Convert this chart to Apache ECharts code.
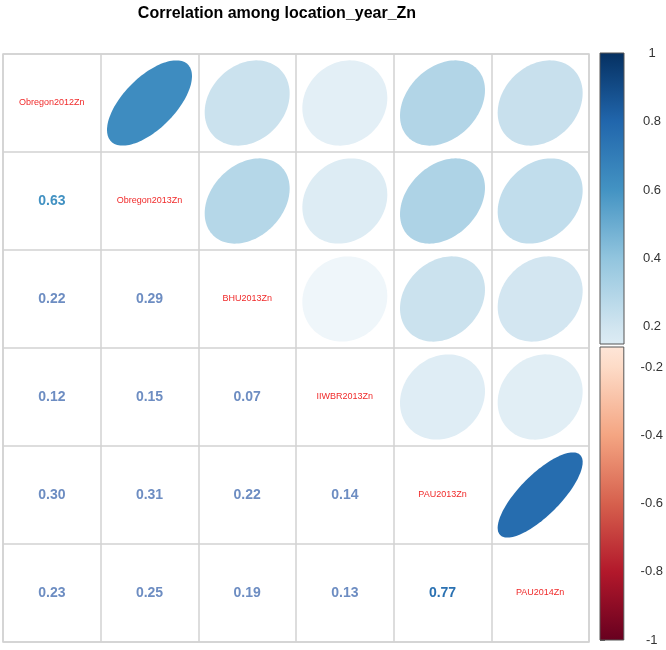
<!DOCTYPE html>
<html><head><meta charset="utf-8">
<script src="https://cdn.jsdelivr.net/npm/echarts@6/dist/echarts.min.js"></script>
<style>html,body{margin:0;padding:0;background:#fff}#c{width:666px;height:650px}</style>
</head><body><div id="c"></div>
<script>
// ---- data ----
const variables = ['Obregon2012Zn','Obregon2013Zn','BHU2013Zn','IIWBR2013Zn','PAU2013Zn','PAU2014Zn'];
const corrLower = [
  [],
  [0.63],
  [0.22, 0.29],
  [0.12, 0.15, 0.07],
  [0.30, 0.31, 0.22, 0.14],
  [0.23, 0.25, 0.19, 0.13, 0.77]
];
const posTicks = [0.2, 0.4, 0.6, 0.8, 1];
const negTicks = [-1, -0.8, -0.6, -0.4, -0.2];
const posRange = [0.15, 1];
const negRange = [-1, -0.14];
const paletteValues = [-1,-0.8,-0.6,-0.4,-0.2,0,0.2,0.4,0.6,0.8,1];
const paletteColors = ['#67001F','#B2182B','#D6604D','#F4A582','#FDDBC7','#FFFFFF','#D1E5F0','#92C5DE','#4393C3','#2166AC','#053061'];

// ---- helpers ----
function hex2rgb(h){return [parseInt(h.slice(1,3),16),parseInt(h.slice(3,5),16),parseInt(h.slice(5,7),16)];}
function colorOf(v){
  for(let i=0;i<paletteValues.length-1;i++){
    if(v>=paletteValues[i] && v<=paletteValues[i+1]){
      const t=(v-paletteValues[i])/(paletteValues[i+1]-paletteValues[i]);
      const a=hex2rgb(paletteColors[i]), b=hex2rgb(paletteColors[i+1]);
      return 'rgb('+a.map((x,k)=>Math.round(x+(b[k]-x)*t)).join(',')+')';
    }
  }
  return paletteColors[paletteColors.length-1];
}
function numberColor(v){ return v>=0.5 ? colorOf(v-0.02) : '#6D8DC2'; }
function gradientFor(range){
  const stops=[];
  const lo=range[0], hi=range[1];
  stops.push({offset:0,color:colorOf(hi)});
  paletteValues.forEach(pv=>{ if(pv<hi && pv>lo) stops.push({offset:(hi-pv)/(hi-lo),color:colorOf(pv)}); });
  stops.push({offset:1,color:colorOf(lo)});
  return new echarts.graphic.LinearGradient(0,0,0,1,stops);
}

// ---- build series data ----
const n = variables.length;
const ellipseData = [], numberData = [], diagData = [];
for(let i=0;i<n;i++){
  diagData.push([i,i]);
  for(let j=0;j<i;j++){
    const r = corrLower[i][j];
    numberData.push([j,i,r]);   // lower triangle: col j, row i
    ellipseData.push([i,j,r]);  // upper triangle: col i, row j
  }
}

const FONT = 'Liberation Sans, Arial, sans-serif';
const gridLine = '#D2D2D2';

const chart = echarts.init(document.getElementById('c'), null, {renderer:'canvas'});
chart.setOption({
  backgroundColor:'#fff',
  animation:false,
  title:{text:'Correlation among location_year_Zn', left:272, top:1, textAlign:'center',
    textStyle:{fontFamily:FONT,fontWeight:'bold',fontSize:16,color:'#000'}},
  grid:[
    {left:3, top:54, width:586, height:588, show:true, borderColor:gridLine, borderWidth:1.5, backgroundColor:'transparent'},
    {left:600, top:53, width:24, height:291},
    {left:600, top:347, width:24, height:293}
  ],
  xAxis:[
    {gridIndex:0, type:'category', data:variables, boundaryGap:true,
      axisLine:{show:false}, axisTick:{show:false}, axisLabel:{show:false},
      splitLine:{show:true, interval:0, lineStyle:{color:gridLine,width:1.5}}},
    {gridIndex:1, type:'value', min:0, max:1, show:false},
    {gridIndex:2, type:'value', min:0, max:1, show:false}
  ],
  yAxis:[
    {gridIndex:0, type:'category', data:variables, inverse:true, boundaryGap:true,
      axisLine:{show:false}, axisTick:{show:false}, axisLabel:{show:false},
      splitLine:{show:true, interval:0, lineStyle:{color:gridLine,width:1.5}}},
    {gridIndex:1, type:'value', position:'right', min:posRange[0], max:posRange[1],
      splitLine:{show:false}, axisLine:{show:false},
      axisTick:{show:true, customValues:posTicks, length:5, lineStyle:{color:'#666'}},
      axisLabel:{show:true, customValues:posTicks, margin:28, align:'center', fontFamily:FONT, fontSize:13, color:'#333'}},
    {gridIndex:2, type:'value', position:'right', min:negRange[0], max:negRange[1],
      splitLine:{show:false}, axisLine:{show:false},
      axisTick:{show:true, customValues:negTicks, length:5, lineStyle:{color:'#666'}},
      axisLabel:{show:true, customValues:negTicks, margin:28, align:'center', fontFamily:FONT, fontSize:13, color:'#333'}}
  ],
  series:[
    {type:'custom', xAxisIndex:0, yAxisIndex:0, data:ellipseData, silent:true,
      renderItem:function(params, api){
        const c = api.coord([api.value(0), api.value(1)]);
        const sz = api.size([1,1]);
        const r = api.value(2);
        const a = Math.acos(r);
        const sx = sz[0]*0.435, sy = sz[1]*0.435;
        const pts=[];
        for(let k=0;k<120;k++){
          const t = 2*Math.PI*k/120;
          pts.push([c[0]+sx*Math.cos(t+a/2), c[1]-sy*Math.cos(t-a/2)]);
        }
        return {type:'polygon', shape:{points:pts}, style:{fill:colorOf(r)}};
      }},
    {type:'custom', xAxisIndex:0, yAxisIndex:0, data:numberData, silent:true,
      renderItem:function(params, api){
        const c = api.coord([api.value(0), api.value(1)]);
        const r = api.value(2);
        return {type:'text', x:c[0], y:c[1], style:{text:r.toFixed(2), fill:numberColor(r),
          font:'bold 14px '+FONT, align:'center', verticalAlign:'middle'}};
      }},
    {type:'custom', xAxisIndex:0, yAxisIndex:0, data:diagData, silent:true,
      renderItem:function(params, api){
        const i = api.value(0);
        const c = api.coord([i, api.value(1)]);
        return {type:'text', x:c[0], y:c[1], style:{text:variables[i], fill:'#F02A2A',
          font:'9px '+FONT, align:'center', verticalAlign:'middle'}};
      }},
    {type:'custom', xAxisIndex:1, yAxisIndex:1, data:[[0, posRange[0], posRange[1]]], silent:true,
      renderItem:function(params, api){
        const p1 = api.coord([0, api.value(2)]), p2 = api.coord([1, api.value(1)]);
        return {type:'rect', shape:{x:p1[0], y:p1[1], width:p2[0]-p1[0], height:p2[1]-p1[1]},
          style:{fill:gradientFor(posRange), stroke:'#555', lineWidth:1}};
      }},
    {type:'custom', xAxisIndex:2, yAxisIndex:2, data:[[0, negRange[0], negRange[1]]], silent:true,
      renderItem:function(params, api){
        const p1 = api.coord([0, api.value(2)]), p2 = api.coord([1, api.value(1)]);
        return {type:'rect', shape:{x:p1[0], y:p1[1], width:p2[0]-p1[0], height:p2[1]-p1[1]},
          style:{fill:gradientFor(negRange), stroke:'#555', lineWidth:1}};
      }}
  ]
});
</script>
</body></html>
